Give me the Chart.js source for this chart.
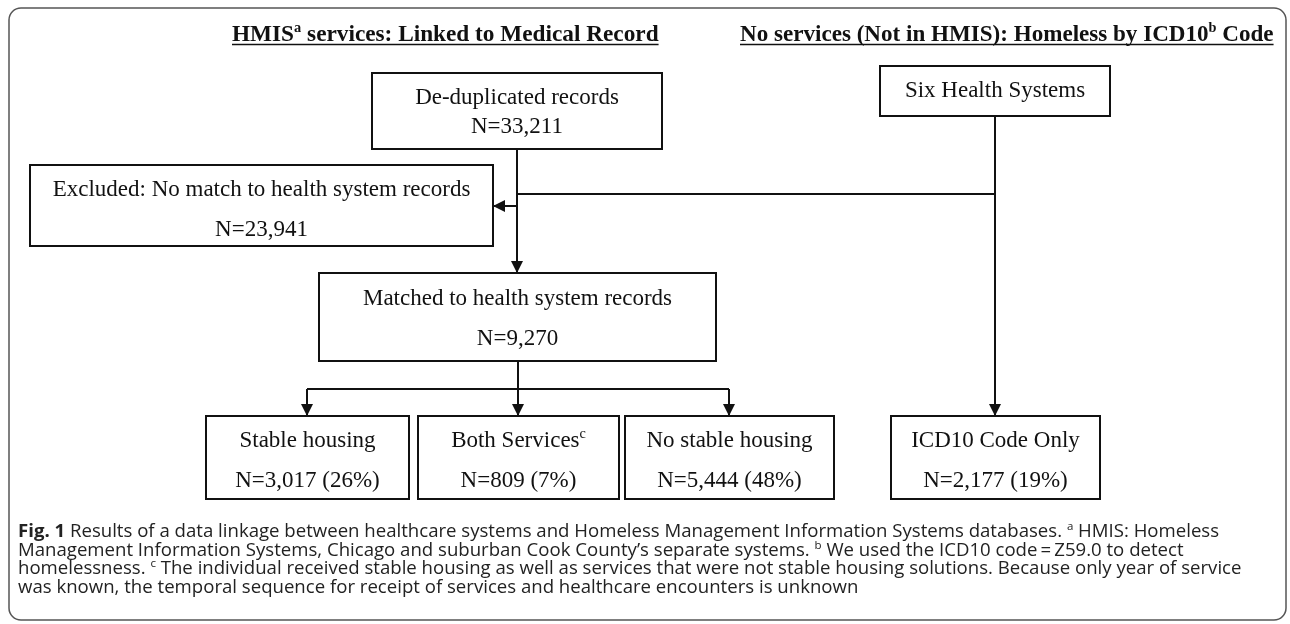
<!DOCTYPE html>
<html>
<head>
<meta charset="utf-8">
<script src="https://cdn.jsdelivr.net/npm/chart.js@4.4.1/dist/chart.umd.min.js"></script>
<style>
  html, body { margin: 0; padding: 0; background: #ffffff; }
  #wrap { width: 1290px; height: 624px; }
</style>
</head>
<body>
<div id="wrap"><canvas id="flow" width="1290" height="624"></canvas></div>
<script>
// Flow data
const nodeLabels = [
  "De-duplicated records",
  "Excluded: No match to health system records",
  "Matched to health system records",
  "Stable housing",
  "Both Services",
  "No stable housing",
  "Six Health Systems",
  "ICD10 Code Only"
];
const nodeSups = [null, null, null, null, "c", null, null, null];
const nodeCounts = [33211, 23941, 9270, 3017, 809, 5444, null, 2177];
const nodePercents = [null, null, null, 26, 7, 48, null, 19];

const headings = [
  [{ t: "HMIS" }, { t: "a", sup: true }, { t: " services: Linked to Medical Record" }],
  [{ t: "No services (Not in HMIS): Homeless by ICD10" }, { t: "b", sup: true }, { t: " Code" }]
];

const captionLines = [
  [{ t: "Fig. 1", bold: true }, { t: " Results of a data linkage between healthcare systems and Homeless Management Information Systems databases. " }, { t: "a", sup: true }, { t: " HMIS: Homeless" }],
  [{ t: "Management Information Systems, Chicago and suburban Cook County\u2019s separate systems. " }, { t: "b", sup: true }, { t: " We used the ICD10 code\u2009=\u2009Z59.0 to detect" }],
  [{ t: "homelessness. " }, { t: "c", sup: true }, { t: " The individual received stable housing as well as services that were not stable housing solutions. Because only year of service" }],
  [{ t: "was known, the temporal sequence for receipt of services and healthcare encounters is unknown" }]
];

// Layout (in axis units, one unit per pixel)
const boxes = [
  [372, 662, 73, 149],
  [30, 493, 165, 246],
  [319, 716, 273, 361],
  [206, 409, 416, 499],
  [418, 619, 416, 499],
  [625, 834, 416, 499],
  [880, 1110, 66, 116],
  [891, 1100, 416, 499]
];
const lineRows = [
  [96, 125], [188, 228], [297, 337], [439, 479], [439, 479], [439, 479], [89], [439, 479]
];
const links = [
  { pts: [[517, 149], [517, 273]], arrow: true },
  { pts: [[995, 194], [517, 194]], arrow: false },
  { pts: [[517, 206], [493, 206]], arrow: true },
  { pts: [[995, 116], [995, 416]], arrow: true },
  { pts: [[518, 361], [518, 416]], arrow: true },
  { pts: [[307, 389], [729, 389]], arrow: false },
  { pts: [[307, 389], [307, 416]], arrow: true },
  { pts: [[729, 389], [729, 416]], arrow: true }
];
const headingPos = [[232, 659, 41], [740, 1274, 41]];
const captionPos = { x: 18, right: 1242, base: 537, step: 18.6 };

const SERIF = '"Liberation Serif", "Times New Roman", serif';
const SANS = '"Open Sans", "Noto Sans", sans-serif';

const fmt = (n) => n.toLocaleString("en-US");

const nodeText = (i) => {
  const first = [{ t: nodeLabels[i] }];
  if (nodeSups[i]) first.push({ t: nodeSups[i], sup: true });
  const rows = [first];
  if (nodeCounts[i] != null) {
    let s = "N=" + fmt(nodeCounts[i]);
    if (nodePercents[i] != null) s += " (" + nodePercents[i] + "%)";
    rows.push([{ t: s }]);
  }
  return rows;
};

// text runs with superscripts
const runFont = (r, size, family, weight) => {
  const w = r.bold ? "bold" : weight;
  const s = r.sup ? size * 0.62 : size;
  return `${w} ${s}px ${family}`;
};
const runsWidth = (ctx, runs, size, family, weight) => {
  let w = 0;
  runs.forEach(r => { ctx.font = runFont(r, size, family, weight); w += ctx.measureText(r.t).width; });
  return w;
};
const drawRuns = (ctx, runs, x, base, size, family, weight, align, color) => {
  const total = runsWidth(ctx, runs, size, family, weight);
  let cx = align === "center" ? x - total / 2 : x;
  ctx.textBaseline = "alphabetic";
  ctx.textAlign = "left";
  ctx.fillStyle = color;
  runs.forEach(r => {
    ctx.font = runFont(r, size, family, weight);
    ctx.fillText(r.t, cx, r.sup ? base - size * 0.38 : base);
    cx += ctx.measureText(r.t).width;
  });
  return { left: x - (align === "center" ? total / 2 : 0), width: total };
};
const fitSize = (ctx, runs, target, family, weight) => {
  const w = runsWidth(ctx, runs, 100, family, weight);
  return 100 * target / w;
};

const flowPlugin = {
  id: "flow",
  beforeDraw(chart) {
    const { ctx } = chart;
    ctx.save();
    ctx.fillStyle = "#ffffff";
    ctx.fillRect(0, 0, chart.width, chart.height);
    ctx.restore();
  },
  afterDatasetsDraw(chart) {
    const { ctx, scales: { x, y } } = chart;
    const px = (v) => x.getPixelForValue(v);
    const py = (v) => y.getPixelForValue(v);
    ctx.save();

    // outer frame
    const fx0 = px(9), fx1 = px(1286), fy0 = py(8), fy1 = py(620), rad = 12;
    ctx.strokeStyle = "#555";
    ctx.lineWidth = 1.5;
    ctx.beginPath();
    ctx.roundRect(fx0, fy0, fx1 - fx0, fy1 - fy0, rad);
    ctx.stroke();

    // arrowheads
    ctx.fillStyle = "#111";
    links.forEach(l => {
      if (!l.arrow) return;
      const [a, b] = l.pts.slice(-2);
      const ax = px(a[0]), ay = py(a[1]), bx = px(b[0]), by = py(b[1]);
      const ang = Math.atan2(by - ay, bx - ax);
      const len = 12, half = 6;
      ctx.beginPath();
      ctx.moveTo(bx, by);
      ctx.lineTo(bx - len * Math.cos(ang) + half * Math.sin(ang), by - len * Math.sin(ang) - half * Math.cos(ang));
      ctx.lineTo(bx - len * Math.cos(ang) - half * Math.sin(ang), by - len * Math.sin(ang) + half * Math.cos(ang));
      ctx.closePath();
      ctx.fill();
    });

    // boxes
    boxes.forEach((b, i) => {
      const x0 = px(b[0]), x1 = px(b[1]), y0 = py(b[2]), y1 = py(b[3]);
      ctx.fillStyle = "#ffffff";
      ctx.fillRect(x0, y0, x1 - x0, y1 - y0);
      ctx.strokeStyle = "#111";
      ctx.lineWidth = 2;
      ctx.strokeRect(x0, y0, x1 - x0, y1 - y0);
      const cx = (x0 + x1) / 2;
      nodeText(i).forEach((row, k) => {
        drawRuns(ctx, row, cx, py(lineRows[i][k]) + 7.6, 23, SERIF, "normal", "center", "#111");
      });
    });

    // headings, underlined
    headings.forEach((h, i) => {
      const [l, r, base] = headingPos[i];
      const size = fitSize(ctx, h, r - l, SERIF, "bold");
      const box = drawRuns(ctx, h, px(l), py(base), size, SERIF, "bold", "left", "#111");
      ctx.strokeStyle = "#111";
      ctx.lineWidth = 1.6;
      ctx.beginPath();
      ctx.moveTo(box.left, py(base) + 3.5);
      ctx.lineTo(box.left + box.width, py(base) + 3.5);
      ctx.stroke();
    });

    // caption
    const capSize = fitSize(ctx, captionLines[2], captionPos.right - captionPos.x, SANS, "normal");
    captionLines.forEach((ln, k) => {
      drawRuns(ctx, ln, px(captionPos.x), py(captionPos.base + k * captionPos.step), capSize, SANS, "normal", "left", "#222");
    });

    ctx.restore();
  }
};

const datasets = links.map(l => ({
  type: "line",
  data: l.pts.map(p => ({ x: p[0], y: p[1] })),
  borderColor: "#111",
  borderWidth: 2,
  pointRadius: 0,
  fill: false,
  tension: 0
}));

new Chart(document.getElementById("flow").getContext("2d"), {
  type: "scatter",
  data: { datasets },
  options: {
    responsive: false,
    animation: false,
    devicePixelRatio: 1,
    layout: { padding: 0 },
    plugins: { legend: { display: false }, tooltip: { enabled: false } },
    scales: {
      x: { type: "linear", min: 0, max: 1290, display: false },
      y: { type: "linear", min: 0, max: 624, reverse: true, display: false }
    }
  },
  plugins: [flowPlugin]
});
</script>
</body>
</html>
